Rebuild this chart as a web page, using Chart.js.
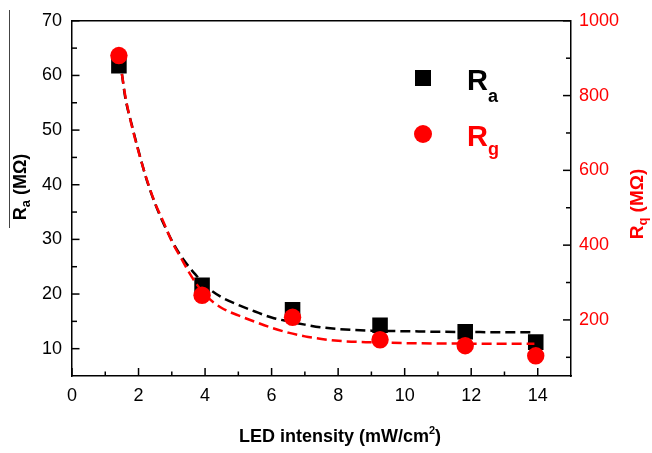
<!DOCTYPE html>
<html>
<head>
<meta charset="utf-8">
<script src="https://cdn.jsdelivr.net/npm/chart.js@4/dist/chart.umd.min.js"></script>
<style>
  html, body { margin: 0; padding: 0; background: #fff; }
  #wrap { width: 652px; height: 453px; position: relative; }
</style>
</head>
<body>
<div id="wrap"><canvas id="c"></canvas></div>
<script>
// LED intensity (mW/cm²) of the measured points
const intensity = [1.41, 3.91, 6.63, 9.26, 11.82, 13.94];
// Ra (MΩ), left axis
const ra = [61.8, 21.6, 17.1, 14.3, 13.1, 11.2];
// Rg (MΩ), right axis
const rg = [907, 266, 207, 147, 131, 104];

// Fitted decay curves, sampled along the intensity axis
const fitX  = [1.5, 1.6, 1.8, 2.0, 2.25, 2.5, 2.75, 3.0, 3.25, 3.5, 3.75, 4.0, 4.5, 5.0, 5.5, 6.0, 6.5, 7.0, 7.5, 8.0, 9, 10, 11, 12, 13, 13.9];
const raFit = [60.3, 56.0, 50.9, 46.2, 40.8, 36.5, 32.9, 29.8, 27.2, 25.1, 23.3, 21.6, 19.4, 18.0, 16.8, 15.7, 15.0, 14.4, 13.9, 13.6, 13.3, 13.2, 13.1, 13.05, 13.0, 13.0];
const rgFit = [858, 800, 718, 650, 575, 512, 462, 410, 370, 330, 295, 267, 232, 212, 195, 179, 166, 156, 149, 144, 140, 138, 137, 136.5, 136, 136];

// Tick labels
const xTicks = [0, 2, 4, 6, 8, 10, 12, 14];
const leftTicks = [10, 20, 30, 40, 50, 60, 70];
const rightTicks = [200, 400, 600, 800, 1000];

const FONT = "'Liberation Sans', Arial, Helvetica, sans-serif";
const RED = '#ff0000';

const pts = (xs, ys) => xs.map((v, i) => ({ x: v, y: ys[i] }));

// Draws a run of text pieces (main text, sub/superscripts); returns end x
function richText(ctx, parts, x, y) {
  let cx = x;
  for (const p of parts) {
    ctx.font = `bold ${p.size}px ${FONT}`;
    ctx.fillText(p.t, cx, y + (p.dy || 0));
    cx += ctx.measureText(p.t).width;
  }
  return cx;
}
function richWidth(ctx, parts) {
  let w = 0;
  for (const p of parts) { ctx.font = `bold ${p.size}px ${FONT}`; w += ctx.measureText(p.t).width; }
  return w;
}

const decor = {
  id: 'decor',
  afterDraw(chart) {
    const ctx = chart.ctx;
    const a = chart.chartArea;
    const sx = chart.scales.x, sl = chart.scales.y, sr = chart.scales.y1;
    ctx.save();
    ctx.strokeStyle = '#000';
    ctx.lineWidth = 1.5;
    const seg = (x1, y1, x2, y2) => { ctx.beginPath(); ctx.moveTo(x1, y1); ctx.lineTo(x2, y2); ctx.stroke(); };

    // top frame line
    seg(a.left, a.top, a.right, a.top);

    // inward ticks: x axis (major every 2, minor every 1)
    for (let v = 0; v <= 14; v += 1) {
      const px = sx.getPixelForValue(v);
      seg(px, a.bottom, px, a.bottom - (v % 2 === 0 ? 8 : 4.5));
    }
    // left axis (major every 10, minor every 5)
    for (let v = 10; v <= 70; v += 5) {
      const py = sl.getPixelForValue(v);
      seg(a.left, py, a.left + (v % 10 === 0 ? 7.5 : 5), py);
    }
    // right axis (major every 200, minor every 100)
    for (let v = 100; v <= 1000; v += 100) {
      const py = sr.getPixelForValue(v);
      seg(a.right, py, a.right - (v % 200 === 0 ? 8 : 5), py);
    }

    // x axis title
    ctx.fillStyle = '#000';
    ctx.textBaseline = 'alphabetic';
    ctx.textAlign = 'left';
    const xt = [
      { t: 'LED intensity (mW/cm', size: 18 },
      { t: '2', size: 11, dy: -8 },
      { t: ')', size: 18 }
    ];
    const xw = richWidth(ctx, xt);
    richText(ctx, xt, 340 - xw / 2, 442);

    // left axis title (rotated)
    const lt = [
      { t: 'R', size: 18 },
      { t: 'a', size: 13, dy: 4 },
      { t: ' (MΩ)', size: 18 }
    ];
    ctx.save();
    ctx.translate(26, 187);
    ctx.rotate(-Math.PI / 2);
    ctx.fillStyle = '#000';
    richText(ctx, lt, -richWidth(ctx, lt) / 2, 0);
    ctx.restore();
    // thin rule beside the left title
    ctx.save();
    ctx.strokeStyle = '#444';
    ctx.lineWidth = 1;
    seg(9.5, 10, 9.5, 228);
    ctx.restore();

    // right axis title (rotated)
    const rt = [
      { t: 'R', size: 19 },
      { t: 'q', size: 13, dy: 4 },
      { t: ' (MΩ)', size: 19 }
    ];
    ctx.save();
    ctx.translate(643, 204);
    ctx.rotate(-Math.PI / 2);
    ctx.fillStyle = RED;
    richText(ctx, rt, -richWidth(ctx, rt) / 2, 0);
    ctx.restore();

    // legend
    ctx.fillStyle = '#000';
    ctx.fillRect(423 - 8, 78 - 8, 16, 16);
    richText(ctx, [{ t: 'R', size: 29 }, { t: 'a', size: 18, dy: 12 }], 467, 90);
    ctx.fillStyle = RED;
    ctx.beginPath();
    ctx.arc(423, 134, 9, 0, Math.PI * 2);
    ctx.fill();
    richText(ctx, [{ t: 'R', size: 29 }, { t: 'g', size: 18, dy: 9 }], 467, 146);

    ctx.restore();
  }
};

new Chart(document.getElementById('c'), {
  type: 'scatter',
  data: {
    datasets: [
      {
        label: 'Rg',
        data: pts(intensity, rg),
        yAxisID: 'y1',
        pointStyle: 'circle',
        pointRadius: 8.7,
        backgroundColor: RED,
        borderColor: RED,
        borderWidth: 0,
        showLine: false,
        order: 0
      },
      {
        label: 'Rg fit',
        data: pts(fitX, rgFit),
        yAxisID: 'y1',
        showLine: true,
        pointRadius: 0,
        borderColor: RED,
        borderWidth: 2.5,
        borderDash: [10, 5],
        cubicInterpolationMode: 'monotone',
        fill: false,
        order: 1
      },
      {
        label: 'Ra fit',
        data: pts(fitX, raFit),
        yAxisID: 'y',
        showLine: true,
        pointRadius: 0,
        borderColor: '#000',
        borderWidth: 2.5,
        borderDash: [10, 5],
        cubicInterpolationMode: 'monotone',
        fill: false,
        order: 2
      },
      {
        label: 'Ra',
        data: pts(intensity, ra),
        yAxisID: 'y',
        pointStyle: 'rect',
        pointRadius: 11,
        backgroundColor: '#000',
        borderColor: '#000',
        borderWidth: 0,
        showLine: false,
        order: 3
      }
    ]
  },
  options: {
    responsive: true,
    maintainAspectRatio: false,
    animation: false,
    devicePixelRatio: 1,
    layout: { padding: { top: 20, right: 0, left: 0, bottom: 0 } },
    plugins: { legend: { display: false }, tooltip: { enabled: false } },
    scales: {
      x: {
        type: 'linear',
        position: 'bottom',
        min: 0, max: 15,
        afterBuildTicks: s => { s.ticks = xTicks.map(v => ({ value: v })); },
        afterFit: s => { s.height = 77; },
        grid: { display: false, drawTicks: false },
        border: { display: true, color: '#000', width: 1.5 },
        ticks: { color: '#000', padding: 9, maxRotation: 0, font: { family: FONT, size: 18 }, callback: v => String(v) }
      },
      y: {
        type: 'linear',
        position: 'left',
        min: 5, max: 70,
        afterBuildTicks: s => { s.ticks = leftTicks.map(v => ({ value: v })); },
        afterFit: s => { s.width = 72; },
        grid: { display: false, drawTicks: false },
        border: { display: true, color: '#000', width: 1.5 },
        ticks: { color: '#000', padding: 10, font: { family: FONT, size: 18 }, callback: v => String(v) }
      },
      y1: {
        type: 'linear',
        position: 'right',
        min: 50, max: 1000,
        afterBuildTicks: s => { s.ticks = rightTicks.map(v => ({ value: v })); },
        afterFit: s => { s.width = 81; },
        grid: { display: false, drawTicks: false },
        border: { display: true, color: '#000', width: 1.5 },
        ticks: { color: RED, padding: 8, font: { family: FONT, size: 18 }, callback: v => String(v) }
      }
    }
  },
  plugins: [decor]
});
</script>
</body>
</html>
